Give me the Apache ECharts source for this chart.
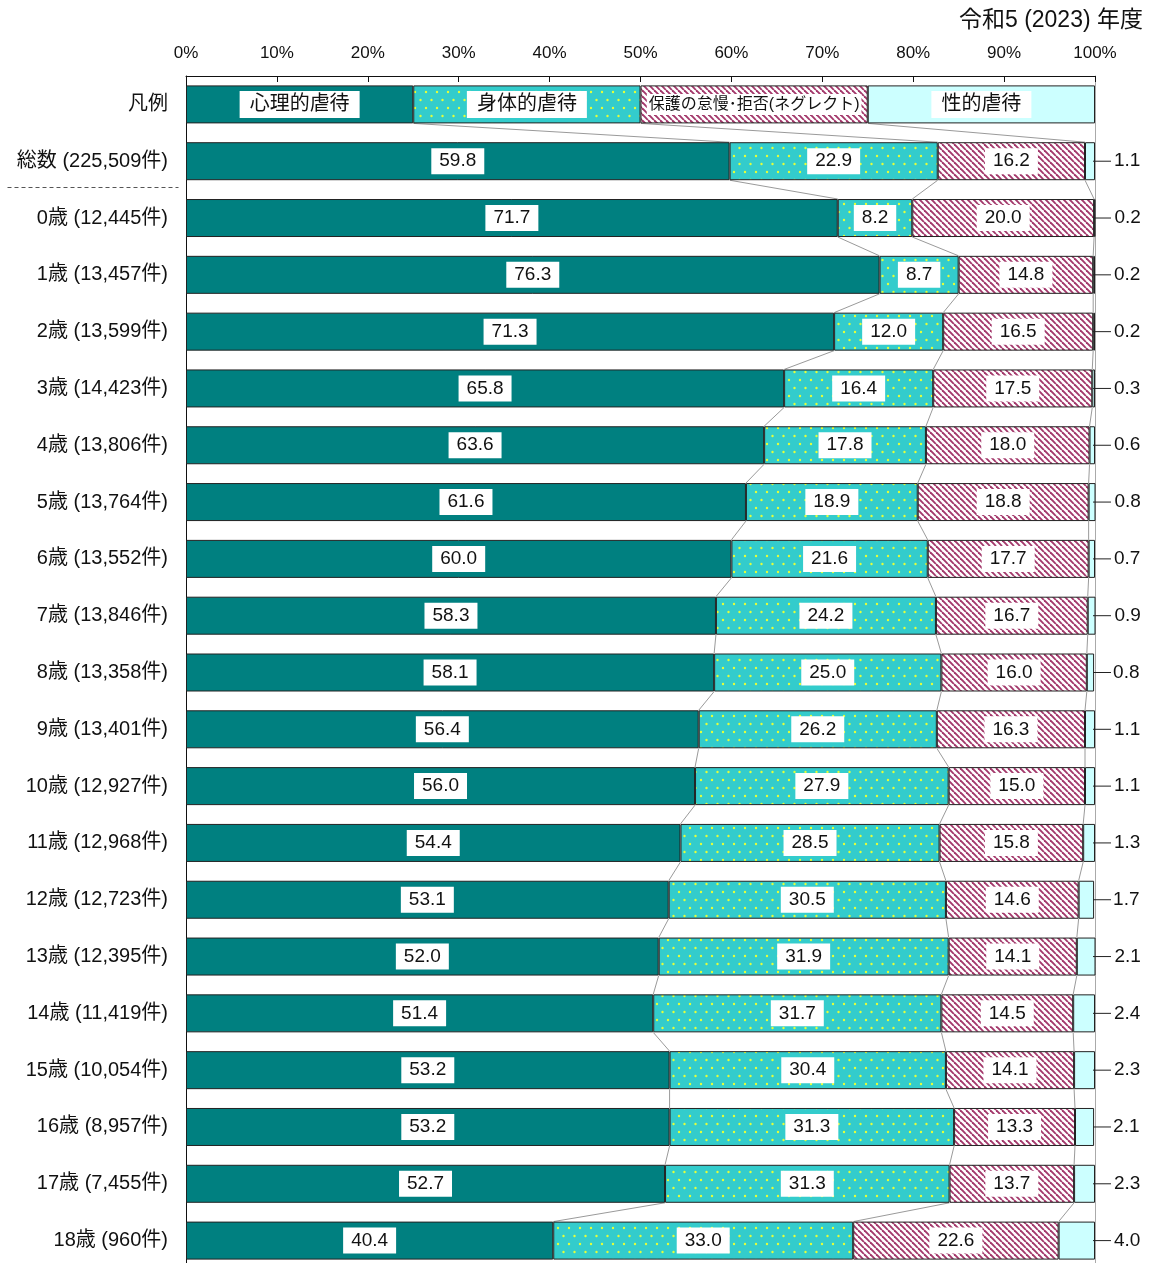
<!DOCTYPE html>
<html><head><meta charset="utf-8">
<script src="https://cdn.jsdelivr.net/npm/echarts@6/dist/echarts.min.js"></script>
<style>html,body{margin:0;padding:0;background:#fff}#c{width:1156px;height:1263px}</style>
</head><body><div id="c"></div>
<script>
// ---- data ----
const categories = ['凡例','総数 (225,509件)','0歳 (12,445件)','1歳 (13,457件)','2歳 (13,599件)','3歳 (14,423件)','4歳 (13,806件)','5歳 (13,764件)','6歳 (13,552件)','7歳 (13,846件)','8歳 (13,358件)','9歳 (13,401件)','10歳 (12,927件)','11歳 (12,968件)','12歳 (12,723件)','13歳 (12,395件)','14歳 (11,419件)','15歳 (10,054件)','16歳 (8,957件)','17歳 (7,455件)','18歳 (960件)'];
const seriesNames = ['心理的虐待','身体的虐待','保護の怠慢･拒否(ネグレクト)','性的虐待'];
const legendShare = [25,25,25,25];
const psych    = [59.8,71.7,76.3,71.3,65.8,63.6,61.6,60.0,58.3,58.1,56.4,56.0,54.4,53.1,52.0,51.4,53.2,53.2,52.7,40.4];
const physical = [22.9,8.2,8.7,12.0,16.4,17.8,18.9,21.6,24.2,25.0,26.2,27.9,28.5,30.5,31.9,31.7,30.4,31.3,31.3,33.0];
const neglect  = [16.2,20.0,14.8,16.5,17.5,18.0,18.8,17.7,16.7,16.0,16.3,15.0,15.8,14.6,14.1,14.5,14.1,13.3,13.7,22.6];
const sexual   = [1.1,0.2,0.2,0.2,0.3,0.6,0.8,0.7,0.9,0.8,1.1,1.1,1.3,1.7,2.1,2.4,2.3,2.1,2.3,4.0];
const xTicks = [0,10,20,30,40,50,60,70,80,90,100];
const titleText = '令和5 (2023) 年度';

// ---- patterns ----
function dotPattern(){
  const c=document.createElement('canvas'); c.width=11; c.height=16;
  const g=c.getContext('2d'); g.fillStyle='#33cccc'; g.fillRect(0,0,11,16);
  g.fillStyle='#e4ff3a';
  g.beginPath(); g.arc(2.5,4,1.2,0,Math.PI*2); g.fill();
  g.beginPath(); g.arc(8,12,1.2,0,Math.PI*2); g.fill();
  return c;
}
function stripePattern(){
  const s=6, c=document.createElement('canvas'); c.width=s; c.height=s;
  const g=c.getContext('2d'); g.fillStyle='#ffffff'; g.fillRect(0,0,s,s);
  g.strokeStyle='#a3386b'; g.lineWidth=1.9;
  for(const k of [-s,0,s]){ g.beginPath(); g.moveTo(k,0); g.lineTo(k+s,s); g.stroke(); }
  return c;
}
const FONT="'Liberation Sans','Noto Sans CJK JP',sans-serif";
const BAR=38;
const arrs=[psych,physical,neglect,sexual];
const colors=['#008080',{image:dotPattern(),repeat:'repeat'},{image:stripePattern(),repeat:'repeat'},'#ccffff'];

function cum(row,k){let s=0;for(let j=0;j<k;j++) s+= row===0?legendShare[j]:arrs[j][row-1];return s;}

const boxLabel={show:true,position:'inside',color:'#111',fontSize:19,fontFamily:FONT,backgroundColor:'#fff',padding:[4,8,3,8],
  formatter:p=>p.dataIndex===0?seriesNames[p.seriesIndex]:Number(p.value).toFixed(1)};

const series=arrs.map((a,k)=>{
  const legendItem={value:legendShare[k],label:{position:'inside',fontSize:k===2?16:20,padding:k===2?[3,2,2,2]:[4,10,3,10],
    backgroundColor:'#fff',color:'#111'}};
  const s={type:'bar',name:seriesNames[k],stack:'total',barWidth:BAR,
    itemStyle:{color:colors[k],borderColor:'#222',borderWidth:1},
    label:k<3?boxLabel:{show:true,position:'right',distance:19,color:'#111',fontSize:19,fontFamily:FONT,
      formatter:p=>p.dataIndex===0?seriesNames[p.seriesIndex]:Number(p.value).toFixed(1)},
    data:[legendItem].concat(a)};
  return s;
});
// connector lines between consecutive rows
series.push({type:'custom',silent:true,z:1,
  data:categories.slice(0,-1).map((_,i)=>[0,i]),encode:{x:0,y:1},
  renderItem:(params,api)=>{
    const i=params.dataIndex, half=BAR/2, ch=[];
    for(let k=1;k<=3;k++){
      const a=api.coord([cum(i,k),i]), b=api.coord([cum(i+1,k),i+1]);
      ch.push({type:'line',shape:{x1:a[0],y1:a[1]+half,x2:b[0],y2:b[1]-half},style:{stroke:'#9a9a9a',lineWidth:1}});
    }
    return {type:'group',children:ch};
  }});
// leader lines for the small right-hand labels
series.push({type:'custom',silent:true,z:5,clip:false,
  data:categories.slice(1).map((_,i)=>[100,i+1]),encode:{x:0,y:1},
  renderItem:(params,api)=>{
    const a=api.coord([api.value(0),api.value(1)]);
    return {type:'line',shape:{x1:a[0]-2,y1:a[1],x2:a[0]+16,y2:a[1]},style:{stroke:'#222',lineWidth:1}};
  }});

const chart=echarts.init(document.getElementById('c'));
chart.setOption({
  animation:false,
  backgroundColor:'#fff',
  textStyle:{fontFamily:FONT},
  title:{text:titleText,right:8,top:4,textStyle:{fontSize:23,fontWeight:'normal',color:'#111',fontFamily:FONT}},
  grid:{left:186,top:76,right:61,bottom:-6,containLabel:false,outerBounds:{left:0,right:0,top:0,bottom:-100}},
  xAxis:{type:'value',position:'top',min:0,max:100,interval:10,
    axisLine:{show:true,lineStyle:{color:'#111'}},
    axisTick:{show:true,inside:true,length:6,lineStyle:{color:'#111'}},
    axisLabel:{formatter:v=>xTicks.includes(v)?v+'%':'',fontSize:17,color:'#111',margin:14,fontFamily:"'Liberation Sans Narrow','Liberation Sans',sans-serif"},
    splitLine:{show:false}},
  yAxis:[{type:'category',data:categories,inverse:true,
    axisLine:{show:true,lineStyle:{color:'#111'}},axisTick:{show:false},
    axisLabel:{fontSize:20,color:'#111',margin:18,fontFamily:FONT}},
   {type:'category',data:categories,inverse:true,position:'right',
    axisLine:{show:true,lineStyle:{color:'#aaaaaa'}},axisTick:{show:false},axisLabel:{show:false}}],
  series:series,
  graphic:[{type:'line',left:5,top:185,shape:{x1:0,y1:0,x2:171,y2:0},style:{stroke:'#555',lineWidth:1,lineDash:[4,3]}}]
});
</script></body></html>
